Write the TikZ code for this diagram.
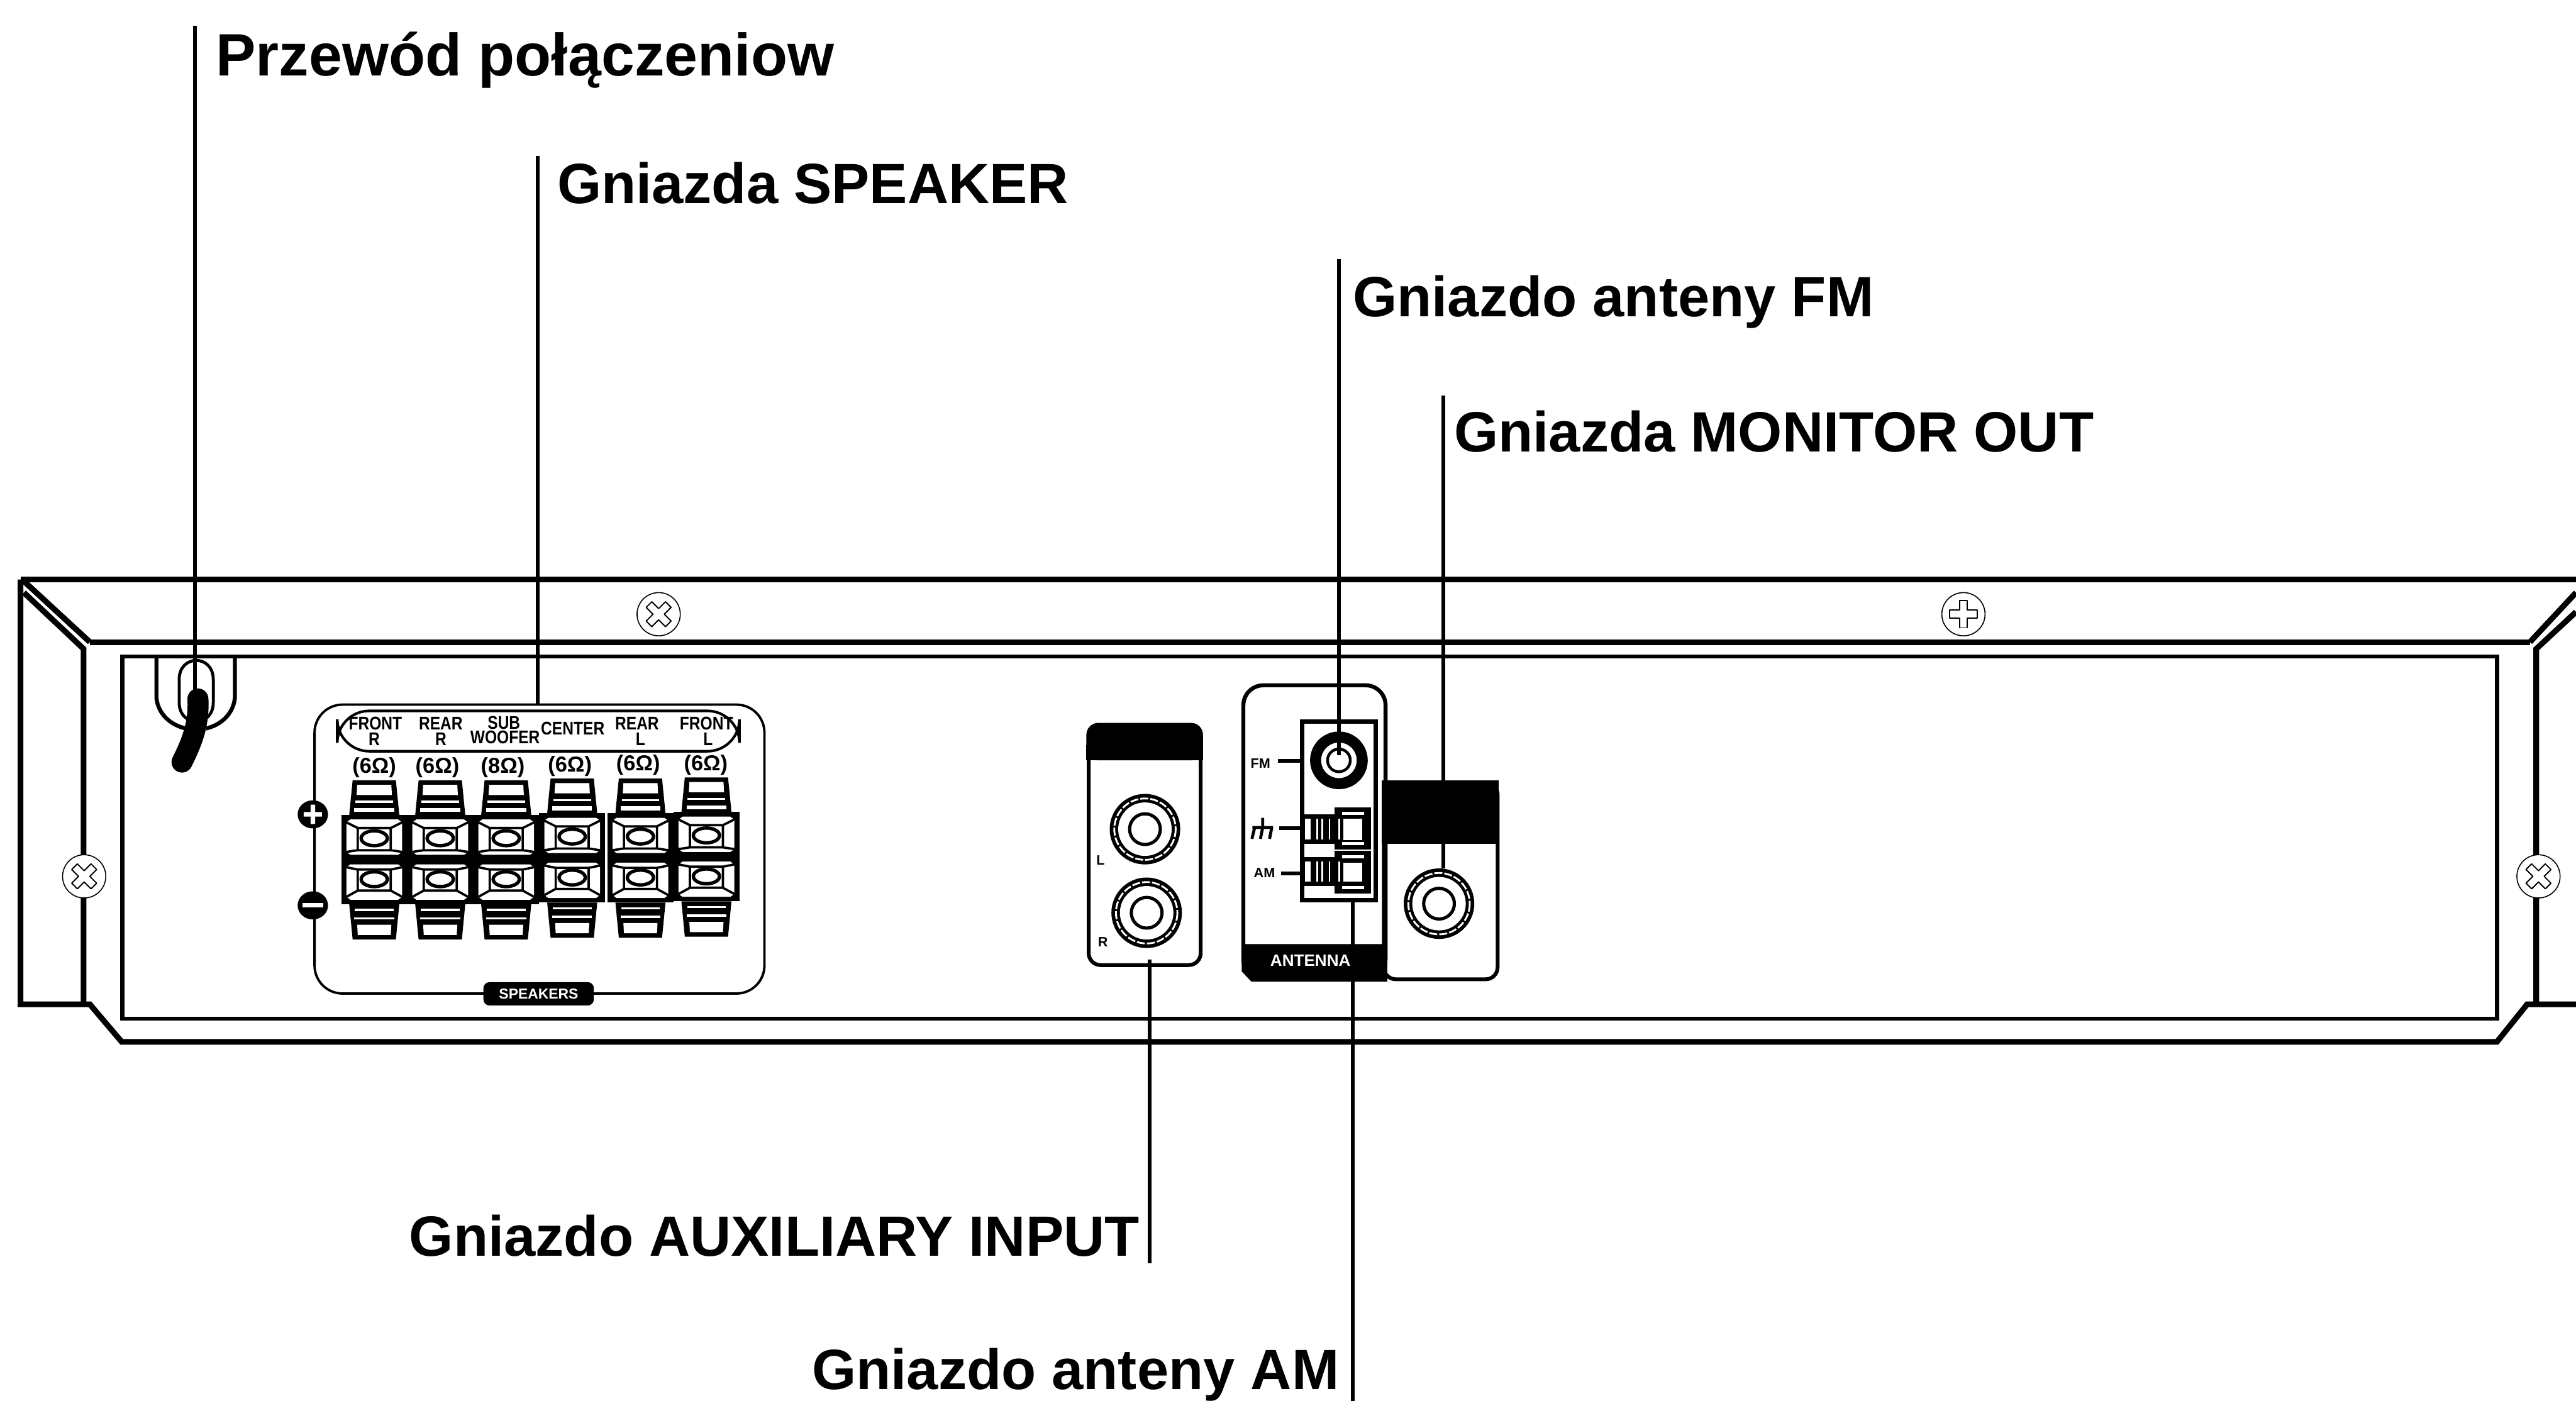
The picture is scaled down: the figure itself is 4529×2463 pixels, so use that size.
\documentclass[tikz,border=0pt]{standalone}
\usepackage{fontspec}
\setmainfont{Liberation Sans}[BoldFont={Liberation Sans Bold}]
\newfontfamily\narrowbold{Liberation Sans Bold}[FakeStretch=0.84]
\newcommand{\bigtxt}{\fontsize{28.4}{30}\selectfont\bfseries}
\newcommand{\toptxt}{\fontsize{29.9}{31}\selectfont\bfseries}
\newcommand{\midtxt}{\fontsize{9.2}{9.5}\selectfont\narrowbold}
\newcommand{\smalltxt}{\fontsize{6.8}{7.2}\selectfont\bfseries}
\newcommand{\ohmtxt}{\fontsize{10.8}{11}\selectfont\bfseries}
\tikzset{
  px/.style={x=0.01cm,y=-0.01cm},
  heavy/.style={line width=2.85pt,line join=miter},
  medium/.style={line width=2pt},
  thin line/.style={line width=1.15pt},
  leader/.style={line width=1.9pt},
  biglabel/.style={anchor=base west,inner sep=0pt,font=\bigtxt},
  termlabel/.style={inner sep=0pt,font=\midtxt},
  ohmlabel/.style={inner sep=0pt,font=\ohmtxt},
  tinylabel/.style={inner sep=0pt,font=\smalltxt},
  screwout/.style={draw,line width=0.5pt,fill=white},
}
% screw with a cross outline: #1 x, #2 y, #3 rotation
\newcommand{\screw}[3]{%
  \begin{scope}[shift={(#1,#2)}]
    \filldraw[screwout] (0,0) circle (38);
    \begin{scope}[rotate=#3]
      \draw[line width=0.6pt,fill=white,line join=round]
        (-7,-24)--(7,-24)--(7,-7)--(24,-7)--(24,7)--(7,7)--(7,24)--(-7,24)--(-7,7)--(-24,7)--(-24,-7)--(-7,-7)--cycle;
    \end{scope}
  \end{scope}}
% speaker terminal: #1 centre x, #2 y offset
\newcommand{\terminal}[2]{%
  \begin{scope}[shift={(#1,#2)}]
    \fill (-38,1372)--(38,1372)--(44,1433)--(-44,1433)--cycle;
    \fill[white] (-30,1380)--(30,1380)--(31,1398)--(-31,1398)--cycle;
    \fill[white] (-33,1408) rectangle (33,1412);
    \fill[white] (-35,1421) rectangle (35,1428);
    \fill (-44,1590)--(44,1590)--(38,1652)--(-38,1652)--cycle;
    \fill[white] (-34,1598) rectangle (34,1602);
    \fill[white] (-35,1613) rectangle (35,1617);
    \fill[white] (-30,1626)--(30,1626)--(29,1644)--(-29,1644)--cycle;
    \fill (-58,1433) rectangle (58,1590);
    \fill[white] (-49,1446)--(-42,1441)--(42,1441)--(49,1446)--(49,1498)--(42,1503)--(-42,1503)--(-49,1498)--cycle;
    \fill[white] (-49,1525)--(-42,1520)--(42,1520)--(49,1525)--(49,1577)--(42,1582)--(-42,1582)--(-49,1577)--cycle;
    \draw[thin line] (-49,1446)--(-29,1456)--(29,1456)--(49,1446) (-49,1498)--(-29,1495)--(29,1495)--(49,1498) (-29,1456)--(-29,1495) (29,1456)--(29,1495);
    \draw[thin line] (-49,1577)--(-29,1566)--(29,1566)--(49,1577) (-49,1525)--(-29,1529)--(29,1529)--(49,1525) (-29,1529)--(-29,1566) (29,1529)--(29,1566);
    \draw[line width=1.7pt,fill=white] (0,1474) ellipse (23 and 13);
    \draw[line width=1.7pt,fill=white] (0,1546) ellipse (23 and 13);
  \end{scope}}
% RCA jack
\newcommand{\jack}[2]{%
  \begin{scope}[shift={(#1,#2)}]
    \fill (0,0) circle (62);
    \draw[white,line width=0.9pt,dash pattern=on 4pt off 1pt] (0,0) circle (54);
    \fill[white] (0,0) circle (47);
    \draw[line width=1.6pt] (0,0) circle (27);
  \end{scope}}
\begin{document}
\begin{tikzpicture}[px]
\useasboundingbox (0,0) rectangle (4529,2463);
\fill[white] (0,0) rectangle (4529,2463);

% --- cabinet ---
\draw[heavy] (36,1019)--(4529,1019);
\draw[heavy] (158,1129)--(4448,1129);
\draw[heavy] (36,1019)--(36,1766)--(158,1766)--(214,1832)--(4390,1832)--(4443,1766)--(4529,1766);
\draw[heavy] (42,1022)--(158,1129);
\draw[heavy] (4448,1129)--(4529,1042);
\draw[heavy] (42,1042)--(147,1141)--(147,1766);
\draw[heavy] (4529,1076)--(4459,1141)--(4459,1766);
\draw[medium] (215,1154) rectangle (4390,1791);

\screw{148}{1541}{45}
\screw{4463}{1541}{45}
\screw{1158}{1080}{45}
\screw{3452}{1080}{0}

% --- cord loop ---
\draw[medium] (275,1154)--(275,1227) .. controls (278,1256) and (300,1275) .. (327,1281);
\draw[medium] (413,1154)--(413,1227) .. controls (410,1256) and (388,1275) .. (362,1281);
\draw[line width=1.5pt] (315,1195) .. controls (315,1150) and (375,1150) .. (375,1195) -- (375,1235) .. controls (375,1280) and (315,1280) .. (315,1235) -- cycle;
\draw[line width=10.5pt,line cap=round] (348,1229) .. controls (350,1270) and (340,1300) .. (320,1340);
\coordinate (cord) at (343,1235);

% --- speaker panel ---
\draw[line width=1.2pt,rounded corners=14] (553,1239) rectangle (1344,1747);
\draw[line width=1.3pt,rounded corners=16] (593,1250) rectangle (1300,1321);
\node[termlabel] (lfr1) at (660,1272) {FRONT};
\node[termlabel] (lfr2) at (658,1300) {R};
\node[termlabel] (lrr1) at (775,1272) {REAR};
\node[termlabel] (lrr2) at (775,1300) {R};
\node[termlabel] (lsw1) at (886,1271) {SUB};
\node[termlabel] (lsw2) at (888,1296) {WOOFER};
\node[termlabel] (lcn) at (1007,1281) {CENTER};
\node[termlabel] (lrl1) at (1120,1272) {REAR};
\node[termlabel] (lrl2) at (1126,1300) {L};
\node[termlabel] (lfl1) at (1242,1272) {FRONT};
\node[termlabel] (lfl2) at (1245,1300) {L};
\node[ohmlabel] (o1) at (658,1350) {(6Ω)};
\node[ohmlabel] (o2) at (769,1350) {(6Ω)};
\node[ohmlabel] (o3) at (884,1350) {(8Ω)};
\node[ohmlabel] (o4) at (1002,1347) {(6Ω)};
\node[ohmlabel] (o5) at (1122,1345) {(6Ω)};
\node[ohmlabel] (o6) at (1241,1345) {(6Ω)};
\terminal{658}{0}
\terminal{774}{0}
\terminal{890}{0}
\terminal{1006}{-3}
\terminal{1126}{-3}
\terminal{1242}{-5}
\draw[white,line width=0.5pt] (1067,1428)--(1067,1587);
\draw[fill=black] (550,1432) ellipse (26 and 24);
\fill[white] (546,1415) rectangle (554,1449) (534,1428) rectangle (566,1436);
\draw[fill=black] (550,1592) ellipse (26 and 24);
\fill[white] (532,1588) rectangle (568,1596);
\fill[rounded corners=3] (850,1727) rectangle (1044,1768);
\node[inner sep=0pt,text=white,font=\fontsize{7.2}{8}\selectfont\bfseries] (spk) at (947,1748) {SPEAKERS};

% --- auxiliary panel ---
\draw[line width=1.9pt,rounded corners=6] (1914,1275) rectangle (2111,1697);
\fill[rounded corners=6] (1910,1337) |- (2115,1271) |- cycle;
\fill (1910,1310) rectangle (2115,1337);
\jack{2013}{1458}
\jack{2016}{1605}
\node[tinylabel] (auxl) at (1935,1513) {L};
\node[tinylabel] (auxr) at (1939,1656) {R};

% --- monitor panel ---
\draw[line width=1.9pt,rounded corners=6] (2433,1376) rectangle (2633,1722);
\fill (2429,1372) rectangle (2635,1484);
\jack{2530}{1589}

% --- antenna panel ---
\draw[line width=2pt,rounded corners=10] (2186,1205) rectangle (2436,1722);
\fill (2183,1660) -- (2439,1660) -- (2439,1726) -- (2200,1726) -- (2183,1708) -- cycle;
\node[inner sep=0pt,text=white,font=\fontsize{8.2}{9}\selectfont\bfseries] (anttxt) at (2304,1689) {ANTENNA};
\draw[line width=2.3pt] (2289,1269) rectangle (2419,1583);
\draw[line width=5.5pt] (2354,1337) circle (41);
\draw[line width=1.4pt] (2354,1337) circle (20);
% antenna clamps
\foreach \ya/\yb/\yc/\yd/\ye/\yf in {1432/1484/1420/1494/1440/1477, 1507/1558/1496/1571/1517/1550}{
  \fill (2292,\ya) rectangle (2350,\yb);
  \fill (2346,\yc) rectangle (2410,\yd);
  \fill[white] (2362,\ye) rectangle (2395,\yf);
  \fill[white] (2294,\ya+8) rectangle (2304,\yb-8);
  \foreach \s in {2314,2323,2336,2353}{\fill[white] (\s,\ya+8) rectangle (\s+3,\yb-8);}
  \fill[white] (2360,\yc+8) rectangle (2398,\yc+13);
  \fill[white] (2360,\yd-13) rectangle (2398,\yd-8);
}
\node[tinylabel] (fmt) at (2216,1342) {FM};
\node[tinylabel] (amt) at (2223,1535) {AM};
\draw[line width=1.5pt] (2220,1438)--(2220,1455) (2202,1455)--(2238,1455) (2206,1455)--(2201,1475) (2220,1455)--(2216,1475) (2236,1455)--(2232,1475);
\draw[medium] (2247,1338)--(2289,1338) (2249,1456)--(2289,1456) (2252,1536)--(2289,1536);

% --- texts ---
\node[biglabel,font=\toptxt] (t1) at (379,133) {Przewód połączeniow};
\node[biglabel] (t2) at (979,358) {Gniazda SPEAKER};
\node[biglabel] (t3) at (2378,557) {Gniazdo anteny FM};
\node[biglabel] (t4) at (2556,794) {Gniazda MONITOR OUT};
\node[biglabel] (t5) at (719,2209) {Gniazdo AUXILIARY INPUT};
\node[biglabel] (t6) at (1427,2443) {Gniazdo anteny AM};

% --- leaders ---
\coordinate (c1) at (343,45);
\coordinate (c2a) at (945,274); \coordinate (c2b) at (945,1239);
\coordinate (c3a) at (2354,456); \coordinate (c3b) at (2354,1328);
\coordinate (c4a) at (2538,696); \coordinate (c4b) at (2538,1527);
\coordinate (c5a) at (2021,1687); \coordinate (c5b) at (2021,2221);
\coordinate (c6a) at (2378,1587); \coordinate (c6b) at (2378,2463);
\draw[leader] (c1)--(cord);
\draw[leader] (c2a)--(c2b);
\draw[leader] (c3a)--(c3b);
\draw[leader] (c4a)--(c4b);
\draw[leader] (c5a)--(c5b);
\draw[leader] (c6a)--(c6b);
\end{tikzpicture}
\end{document}
